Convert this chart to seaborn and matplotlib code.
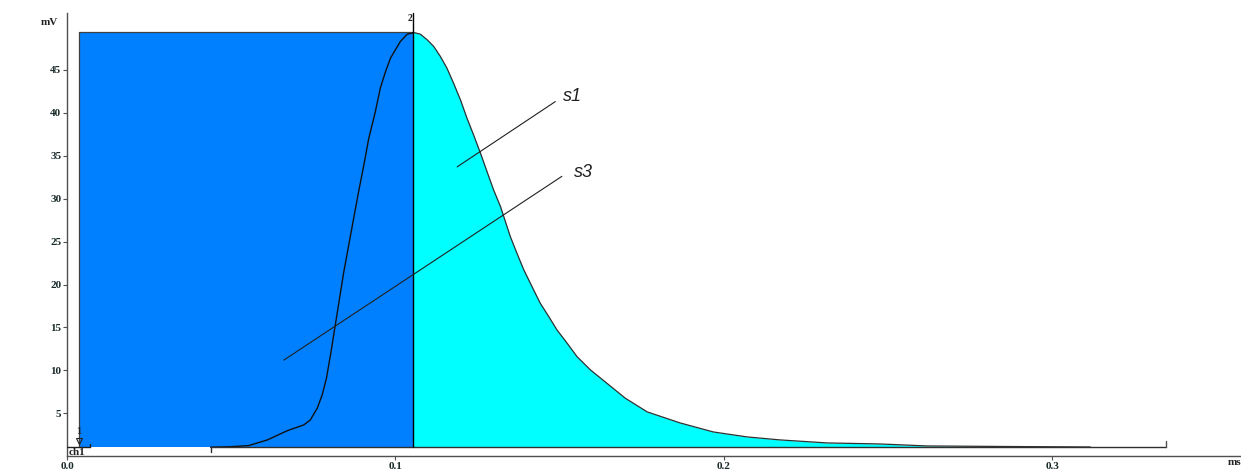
import numpy as np
import pandas as pd
import matplotlib
matplotlib.use('Agg')
import matplotlib.pyplot as plt
import seaborn as sns

# peak readings (time in ms, signal in mV)
baseline = 1.06
rect_left = 0.0035
peak_x = 0.1055
peak_y = 49.35

rise_x = [0.0437, 0.0498, 0.0553, 0.0610, 0.0671, 0.0721, 0.0741, 0.0762, 0.0777, 0.0790,
          0.0804, 0.0817, 0.0830, 0.0843, 0.0858, 0.0873, 0.0888, 0.0904, 0.0919, 0.0939,
          0.0954, 0.0970, 0.0985, 0.1000, 0.1015, 0.1036, 0.1051, 0.1055]
rise_y = [1.06, 1.12, 1.25, 1.91, 2.99, 3.66, 4.24, 5.60, 7.15, 9.09,
          12.19, 15.30, 18.41, 21.51, 24.62, 27.73, 30.82, 33.93, 37.04, 40.14,
          42.87, 44.80, 46.36, 47.33, 48.29, 49.15, 49.27, 49.35]

fall_x = [0.1055, 0.1076, 0.1097, 0.1117, 0.1137, 0.1157, 0.1177, 0.1198, 0.1218, 0.1238,
          0.1259, 0.1279, 0.1299, 0.1320, 0.1330, 0.1350, 0.1370, 0.1391, 0.1416, 0.1441,
          0.1467, 0.1492, 0.1523, 0.1553, 0.1594, 0.1644, 0.1700, 0.1767, 0.1867, 0.1968,
          0.2071, 0.2172, 0.2315, 0.2476, 0.2619, 0.2842, 0.3116]
fall_y = [49.35, 49.15, 48.49, 47.71, 46.55, 45.19, 43.45, 41.51, 39.37, 37.43,
          35.30, 33.15, 31.02, 29.08, 27.91, 25.58, 23.65, 21.71, 19.76, 17.83,
          16.27, 14.72, 13.17, 11.61, 10.06, 8.51, 6.77, 5.17, 3.89, 2.84,
          2.26, 1.91, 1.56, 1.44, 1.21, 1.15, 1.09]

int_start = 0.0437
int_end = 0.3347

yticks = [5, 10, 15, 20, 25, 30, 35, 40, 45]
xticks = [0.0, 0.1, 0.2, 0.3]
xtick_labels = ['0.0', '0.1', '0.2', '0.3']

# s1 / s3 leader lines: (x0, y0, x1, y1)
s1_line = (0.1188, 33.7, 0.1487, 41.3)
s3_line = (0.0660, 11.2, 0.1507, 32.6)

rise = pd.DataFrame({'t': rise_x, 'mv': rise_y})
fall = pd.DataFrame({'t': fall_x, 'mv': fall_y})

sns.set_style('white')
fig = plt.figure(figsize=(12.41, 4.69), dpi=100)
ax = fig.add_axes([0.054, 0.027, 0.946, 0.945])

blue = '#0080ff'
cyan = '#00ffff'
ink = '#202020'

# blue block left of the peak, cyan area under the tail
ax.fill_between([rect_left, peak_x], [peak_y, peak_y], baseline, color=blue, lw=0, zorder=1)
ax.plot([rect_left, rect_left, peak_x], [baseline, peak_y, peak_y], color='#404040', lw=0.9, zorder=2)
ax.fill_between(fall['t'], fall['mv'], baseline, color=cyan, lw=0, zorder=1)

sns.lineplot(data=fall, x='t', y='mv', ax=ax, color='#303030', lw=0.9, sort=False, zorder=3)
sns.lineplot(data=rise, x='t', y='mv', ax=ax, color='#101010', lw=1.0, sort=False, zorder=3)

# baseline with start/end marks
ax.plot([int_start, int_end], [baseline, baseline], color='#303030', lw=1, zorder=3)
ax.plot([int_start, int_start], [baseline, baseline - 0.6], color='#303030', lw=1, zorder=3)
ax.plot([int_end, int_end], [baseline, baseline + 0.7], color='#505050', lw=1, zorder=3)
ax.plot([0, 0.007], [baseline, baseline], color=ink, lw=1, zorder=3)
ax.plot([0.007, 0.007], [baseline, baseline + 0.4], color=ink, lw=1, zorder=3)

# peak marker line, runs up past the block
ax.plot([peak_x, peak_x], [baseline, 51.6], color='black', lw=1, zorder=4, clip_on=False)
ax.text(peak_x - 0.0012, 50.4, '2', fontsize=7, fontweight='bold', family='Liberation Serif',
        ha='center', va='bottom', color=ink)
ax.plot([rect_left], [baseline + 0.75], marker='v', ms=5, mfc='none', mec=ink, mew=0.8, zorder=4)
ax.text(rect_left, baseline + 1.3, '1', fontsize=7, fontweight='bold', family='Liberation Serif',
        ha='center', va='bottom', color=ink)
ax.text(0.0005, 0.5, 'ch1', fontsize=8, fontweight='bold', family='Liberation Serif',
        ha='left', va='center', color=ink)

# annotations
ax.plot(s1_line[0::2], s1_line[1::2], color=ink, lw=0.8, zorder=5)
ax.plot(s3_line[0::2], s3_line[1::2], color=ink, lw=0.8, zorder=5)
ax.text(0.1539, 41.9, 's1', fontsize=13, style='italic', family='Liberation Sans',
        ha='center', va='center', color=ink)
ax.text(0.1572, 33.1, 's3', fontsize=13, style='italic', family='Liberation Sans',
        ha='center', va='center', color=ink)

ax.set_xlim(0, 0.3575)
ax.set_ylim(0, 51.6)
ax.set_xticks(xticks)
ax.set_xticklabels(xtick_labels)
ax.set_yticks(yticks)
ax.set_xlabel('')
ax.set_ylabel('')
for lab in ax.get_xticklabels() + ax.get_yticklabels():
    lab.set_fontfamily('Liberation Serif')
    lab.set_fontweight('bold')
    lab.set_fontsize(8)
    lab.set_color('#1a2a2a')
ax.tick_params(axis='both', length=3, width=0.8, color='#505050', pad=1, left=True, bottom=True)

for side in ['top', 'right']:
    ax.spines[side].set_visible(False)
for side in ['left', 'bottom']:
    ax.spines[side].set_color('#505050')
    ax.spines[side].set_linewidth(1)

fig.text(0.047, 0.953, 'mV', fontsize=8, fontweight='bold', family='Liberation Serif',
         ha='right', va='center', color=ink)
fig.text(0.989, 0.005, 'ms', fontsize=8, fontweight='bold', family='Liberation Serif',
         ha='left', va='bottom', color=ink)

fig.savefig('out.png', dpi=100)
